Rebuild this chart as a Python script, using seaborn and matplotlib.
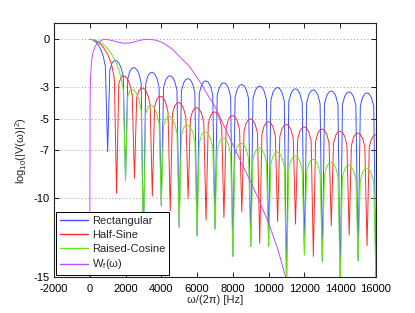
import numpy as np
import pandas as pd
import matplotlib
matplotlib.use("Agg")
import matplotlib.pyplot as plt
from matplotlib.lines import Line2D
import seaborn as sns

# ---------------- data ----------------
freq_hz = np.arange(0, 16001, 125)          # sample grid, 125 Hz steps

rect_vals = [
    0.00, -0.02, -0.09, -0.21, -0.39, -0.66, -1.05, -1.71,
    -7.09, -1.93, -1.49, -1.34, -1.35, -1.49, -1.78, -2.37,
    -8.92, -2.48, -2.00, -1.81, -1.79, -1.90, -2.17, -2.75,
    -13.0, -2.82, -2.32, -2.12, -2.08, -2.18, -2.44, -3.01,
    -10.52, -3.06, -2.55, -2.35, -2.30, -2.39, -2.65, -3.20,
    -11.86, -3.25, -2.74, -2.52, -2.48, -2.56, -2.81, -3.37,
    -12.41, -3.40, -2.89, -2.67, -2.62, -2.71, -2.95, -3.50,
    -11.97, -3.53, -3.02, -2.80, -2.74, -2.83, -3.07, -3.62,
    -13.70, -3.65, -3.13, -2.91, -2.85, -2.94, -3.18, -3.72,
    -13.08, -3.75, -3.23, -3.01, -2.95, -3.03, -3.27, -3.82,
    -13.08, -3.84, -3.32, -3.10, -3.04, -3.12, -3.36, -3.90,
    -15.50, -3.92, -3.40, -3.18, -3.12, -3.19, -3.44, -3.98,
    -13.60, -4.00, -3.47, -3.25, -3.19, -3.27, -3.51, -4.05,
    -14.03, -4.06, -3.54, -3.32, -3.26, -3.33, -3.57, -4.11,
    -15.50, -4.13, -3.60, -3.38, -3.32, -3.39, -3.63, -4.17,
    -13.97, -4.19, -3.66, -3.44, -3.38, -3.45, -3.69, -4.23,
    -15.50,
]

half_sine_vals = [
    0.00, -0.01, -0.05, -0.12, -0.21, -0.33, -0.50, -0.70,
    -0.95, -1.29, -1.74, -2.47, -9.72, -2.80, -2.40, -2.30,
    -2.35, -2.53, -2.87, -3.50, -8.77, -3.68, -3.23, -3.08,
    -3.09, -3.23, -3.53, -4.13, -9.89, -4.26, -3.79, -3.61,
    -3.60, -3.72, -4.01, -4.59, -10.81, -4.69, -4.20, -4.02,
    -3.99, -4.10, -4.38, -4.95, -10.03, -5.03, -4.54, -4.34,
    -4.31, -4.42, -4.68, -5.25, -11.40, -5.32, -4.82, -4.62,
    -4.58, -4.68, -4.94, -5.51, -11.25, -5.56, -5.06, -4.86,
    -4.81, -4.91, -5.17, -5.73, -10.88, -5.78, -5.27, -5.06,
    -5.02, -5.11, -5.37, -5.92, -12.87, -5.97, -5.46, -5.25,
    -5.20, -5.29, -5.55, -6.10, -11.50, -6.14, -5.63, -5.42,
    -5.37, -5.46, -5.71, -6.26, -11.66, -6.30, -5.78, -5.57,
    -5.52, -5.61, -5.86, -6.41, -13.70, -6.44, -5.92, -5.71,
    -5.66, -5.74, -5.99, -6.54, -11.76, -6.57, -6.06, -5.84,
    -5.79, -5.87, -6.12, -6.67, -12.35, -6.70, -6.18, -5.96,
    -5.91, -5.99, -6.24, -6.78, -13.02, -6.81, -6.29, -6.07,
    -6.02,
]

raised_cos_vals = [
    0.00, -0.01, -0.04, -0.08, -0.14, -0.23, -0.33, -0.45,
    -0.60, -0.78, -0.99, -1.24, -1.54, -1.92, -2.41, -3.18,
    -8.92, -3.58, -3.22, -3.15, -3.23, -3.44, -3.81, -4.47,
    -13.0, -4.70, -4.28, -4.15, -4.18, -4.35, -4.68, -5.30,
    -10.52, -5.47, -5.02, -4.86, -4.87, -5.01, -5.32, -5.92,
    -11.86, -6.05, -5.58, -5.42, -5.41, -5.54, -5.83, -6.42,
    -12.41, -6.53, -6.05, -5.87, -5.85, -5.97, -6.25, -6.83,
    -11.97, -6.93, -6.44, -6.25, -6.23, -6.34, -6.62, -7.19,
    -13.70, -7.27, -6.78, -6.59, -6.56, -6.67, -6.94, -7.51,
    -13.08, -7.58, -7.08, -6.89, -6.85, -6.95, -7.22, -7.79,
    -13.08, -7.85, -7.35, -7.15, -7.11, -7.21, -7.48, -8.04,
    -15.50, -8.10, -7.60, -7.39, -7.35, -7.45, -7.71, -8.27,
    -13.60, -8.32, -7.82, -7.61, -7.57, -7.67, -7.92, -8.48,
    -14.03, -8.53, -8.02, -7.82, -7.77, -7.87, -8.12, -8.68,
    -15.50, -8.72, -8.21, -8.00, -7.96, -8.05, -8.30, -8.86,
    -13.97, -8.90, -8.39, -8.18, -8.13, -8.22, -8.48, -9.03,
    -15.50,
]

wf_hz = [0, 20, 50, 100, 170, 300, 450, 650, 830, 1050, 1290, 1600, 1950,
         2300, 2600, 2900, 3170, 3630, 4000, 4290, 4650, 5030, 5590, 6250,
         6530, 7000, 7500, 8000, 8500, 9000, 9500, 10000, 10500, 10950, 11100]
wf_vals = [-16.0, -4.0, -2.3, -1.4, -0.88, -0.45, -0.21, -0.06, 0.0, -0.03,
           -0.09, -0.19, -0.25, -0.22, -0.13, -0.04, 0.0, -0.04, -0.17, -0.36,
           -0.66, -1.10, -1.73, -2.84, -3.40, -4.25, -5.45, -6.65, -7.85,
           -9.00, -10.25, -11.60, -13.20, -15.0, -15.5]

series_labels = ["Rectangular", "Half-Sine", "Raised-Cosine", "W$_\\mathrm{f}$(ω)"]
series_colors = ["#3b50ff", "#ff2b2b", "#66e818", "#c04cff"]

x_ticks = [-2000, 0, 2000, 4000, 6000, 8000, 10000, 12000, 14000, 16000]
y_ticks = [-15, -10, -7, -5, -3, 0]

# ---------------- style ----------------
sns.set_style("ticks")
plt.rcParams["font.family"] = ["Liberation Sans", "DejaVu Sans"]
plt.rcParams["axes.unicode_minus"] = False
plt.rcParams["mathtext.fontset"] = "custom"
plt.rcParams["mathtext.rm"] = "Liberation Sans"
plt.rcParams["mathtext.it"] = "Liberation Sans:italic"

fig = plt.figure(figsize=(4.15, 3.13), dpi=100)
ax = fig.add_axes([0.130, 0.115, 0.776, 0.810])

series = [
    (freq_hz, rect_vals),
    (freq_hz, half_sine_vals),
    (freq_hz, raised_cos_vals),
    (np.array(wf_hz), wf_vals),
]
for (xs, ys), col in zip(series, series_colors):
    df = pd.DataFrame({"freq": xs, "val": ys})
    sns.lineplot(data=df, x="freq", y="val", color=col, legend=False,
                 linewidth=0.7, estimator=None, sort=False, ax=ax)

ax.set_xlim(-2000, 16000)
ax.set_ylim(-15, 1)
ax.set_xticks(x_ticks)
ax.set_yticks(y_ticks)
ax.tick_params(direction="in", top=True, right=True, length=3.5,
               width=0.6, labelsize=8, colors="black")
ax.tick_params(axis="x", pad=5)
ax.tick_params(axis="y", pad=3)
ax.yaxis.grid(True, linestyle=(0, (1, 2.5)), color="#9a9a9a", linewidth=0.7)
ax.xaxis.grid(False)
for sp in ax.spines.values():
    sp.set_visible(True)
    sp.set_color("#222222")
    sp.set_linewidth(0.8)

ax.set_xlabel("ω/(2π) [Hz]", fontsize=8, labelpad=1)
ax.set_ylabel("log$_{10}$(|V(ω)|$^2$)", fontsize=8, labelpad=3)

handles = [Line2D([0], [0], color=c, lw=1.0) for c in series_colors]
leg = ax.legend(handles, series_labels, loc="lower left", fontsize=8,
                frameon=True, fancybox=False, edgecolor="black", framealpha=1,
                handlelength=2.6, handletextpad=0.35, labelspacing=0.35,
                borderpad=0.3, borderaxespad=0.2)
leg.get_frame().set_linewidth(0.7)

fig.savefig("out.png", dpi=100)
